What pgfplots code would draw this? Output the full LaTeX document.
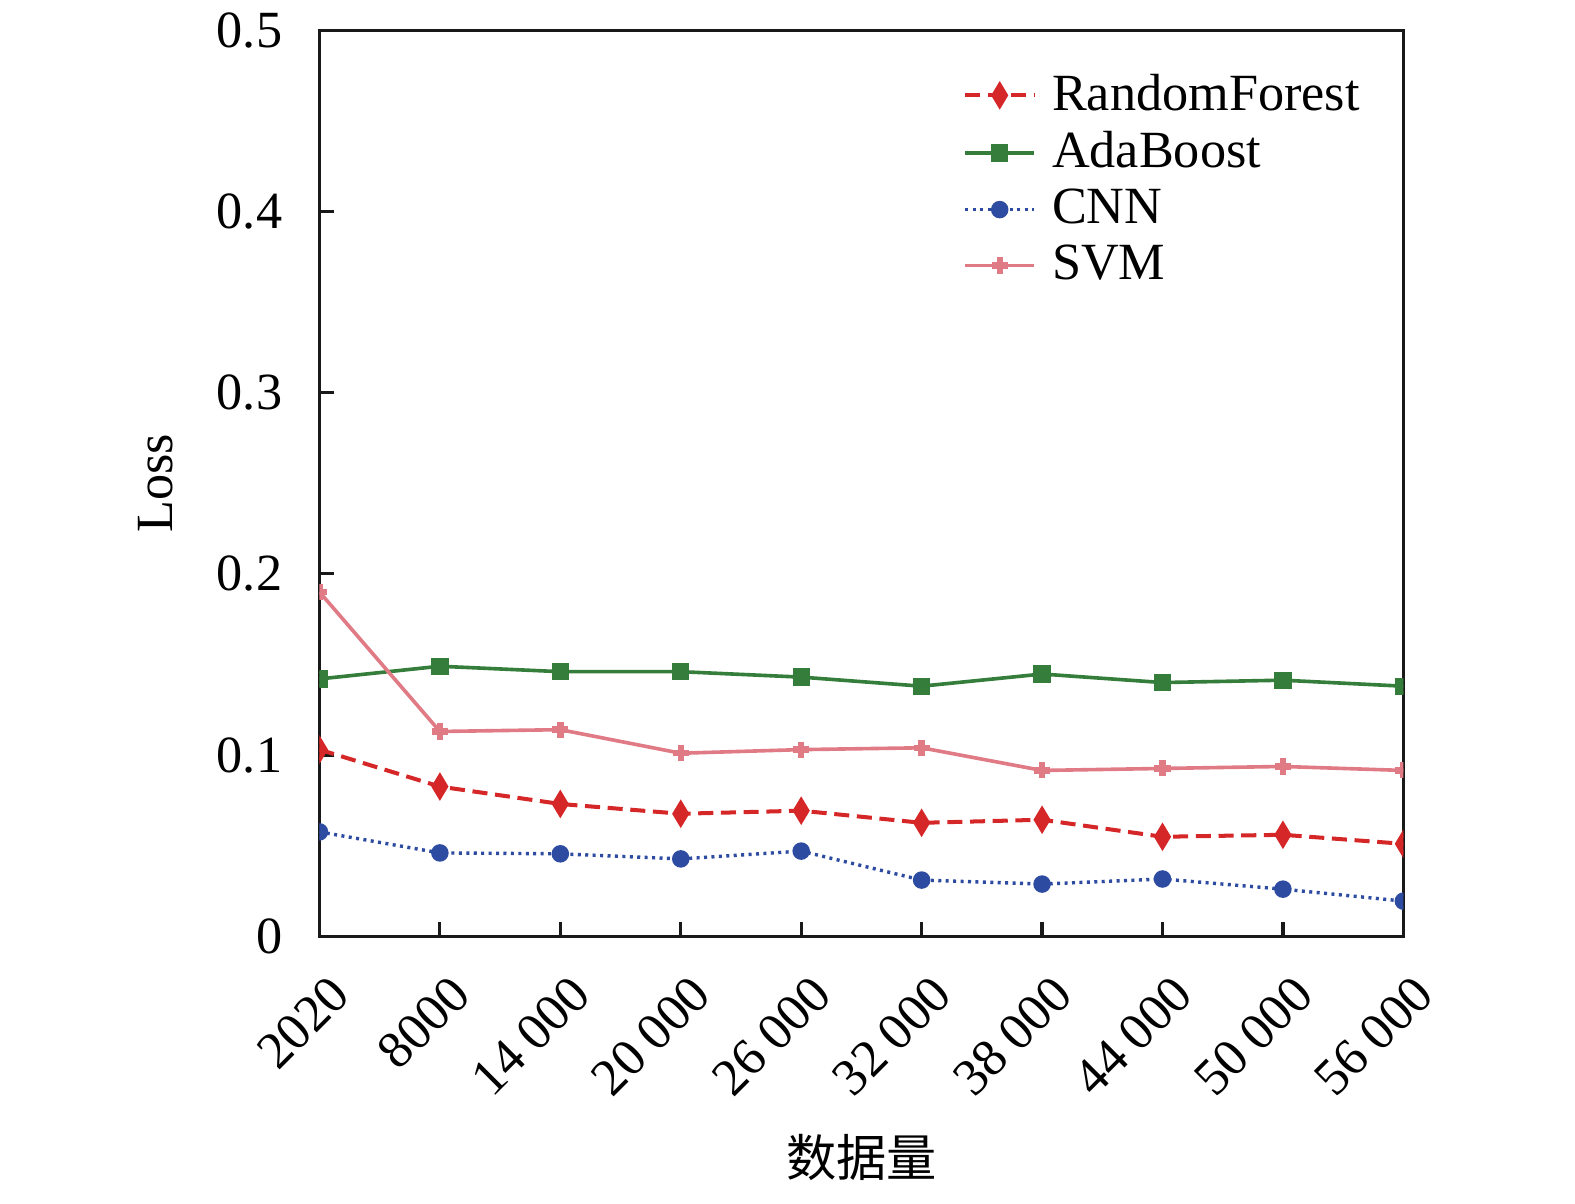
\documentclass[border=0pt]{standalone}
\usepackage{pgfplots}
\pgfplotsset{compat=1.18}
\usepackage{fontspec}
\setmainfont{Liberation Serif}
\newfontfamily\cjk{Noto Sans CJK SC}
\definecolor{rfred}{RGB}{214,39,40}
\definecolor{adagreen}{RGB}{52,125,58}
\definecolor{cnnblue}{RGB}{45,75,160}
\definecolor{svmpink}{RGB}{224,122,133}
\begin{document}
\begin{tikzpicture}
\path[use as bounding box] (-79.5pt,-66.5pt) rectangle (312.45pt,233pt);
\begin{axis}[
  at={(0pt,0pt)}, anchor=south west,
  scale only axis, width=269.75pt, height=225.5pt,
  font=\fontsize{13}{15}\selectfont,
  xmin=0, xmax=9, ymin=0, ymax=0.5,
  xtick={0,1,2,3,4,5,6,7,8,9},
  xticklabels={2020,8000,14\hspace{0.22em}000,20\hspace{0.22em}000,26\hspace{0.22em}000,32\hspace{0.22em}000,38\hspace{0.22em}000,44\hspace{0.22em}000,50\hspace{0.22em}000,56\hspace{0.22em}000},
  ytick={0,0.1,0.2,0.3,0.4,0.5},
  yticklabels={0,0.1,0.2,0.3,0.4,0.5},
  tick pos=left, tick align=inside,
  major tick length=3.5pt,
  axis line style={line width=0.8pt, black!90},
  every tick/.style={line width=0.8pt, black!90},
  xticklabel style={xshift=2pt, yshift=-4.25pt, rotate=45, anchor=north east},
  yticklabel style={xshift=-5.75pt},
  clip marker paths=true,
  xlabel={\cjk 数据量},
  ylabel={Loss},
  every axis x label/.style={at={(axis description cs:0.5,-0.2445)}, anchor=center, font=\fontsize{12.5}{15}\selectfont},
  every axis y label/.style={at={(axis description cs:-0.151,0.5)}, rotate=90, anchor=center},
  legend style={draw=none, fill=none, at={(rel axis cs:0.979,0.970)}, anchor=north east,
    row sep=-0.2pt, font=\fontsize{13}{15}\selectfont,
    /tikz/every odd column/.append style={column sep=2pt}},
  legend cell align=left,
]
\addplot[rfred, line width=1pt, dash pattern=on 3.75pt off 1.9pt, mark=diamond*, mark size=2.6pt,
  mark options={solid, xscale=0.8}]
  coordinates {(0,0.103)(1,0.0826)(2,0.073)(3,0.0676)(4,0.0693)(5,0.0626)(6,0.0643)(7,0.0549)(8,0.056)(9,0.051)};
\addlegendentry{RandomForest}
\addplot[adagreen, line width=0.9pt, mark=square*, mark size=1.7pt, mark options={solid}]
  coordinates {(0,0.142)(1,0.149)(2,0.146)(3,0.146)(4,0.143)(5,0.138)(6,0.1447)(7,0.140)(8,0.1413)(9,0.138)};
\addlegendentry{AdaBoost}
\addplot[cnnblue, line width=0.85pt, dash pattern=on 0.75pt off 1.1pt, mark=*, mark size=1.75pt, mark options={solid}]
  coordinates {(0,0.0576)(1,0.046)(2,0.0455)(3,0.0427)(4,0.047)(5,0.031)(6,0.0288)(7,0.0316)(8,0.026)(9,0.0194)};
\addlegendentry{CNN}
\addplot[svmpink, line width=0.9pt, mark=+, mark size=2pt, mark options={solid, line width=1.6pt}]
  coordinates {(0,0.190)(1,0.113)(2,0.114)(3,0.101)(4,0.103)(5,0.104)(6,0.0915)(7,0.0926)(8,0.0937)(9,0.0915)};
\addlegendentry{SVM}
\end{axis}
\end{tikzpicture}
\end{document}
